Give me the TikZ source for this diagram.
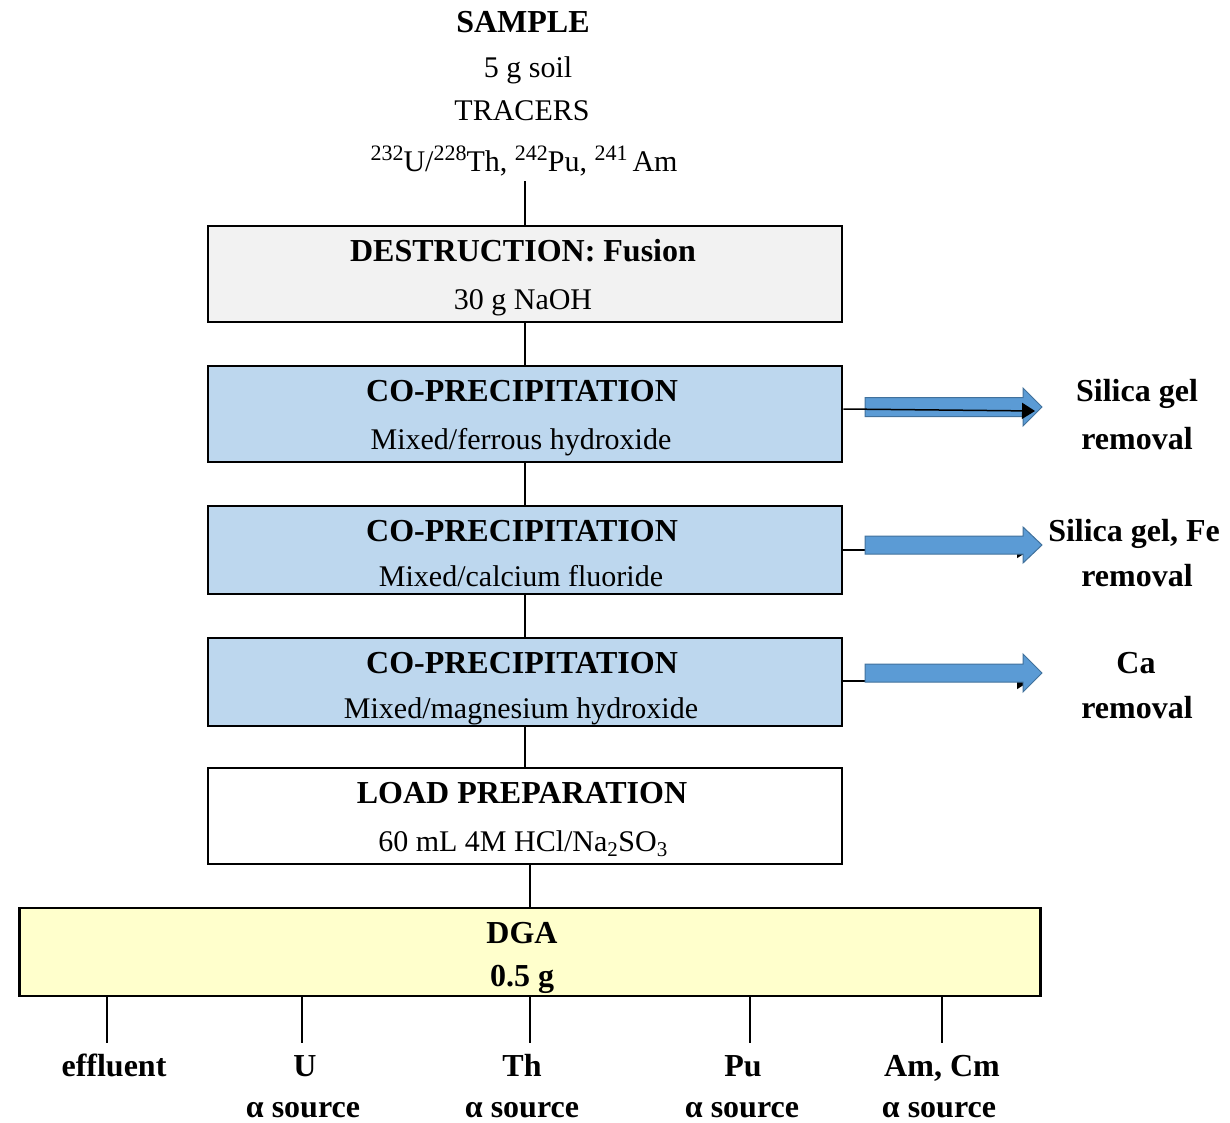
\documentclass[tikz,border=0pt]{standalone}
\usepackage{fontspec}
\setmainfont{Liberation Serif}
\usetikzlibrary{arrows.meta}
\definecolor{grayfill}{HTML}{F2F2F2}
\definecolor{bluefill}{HTML}{BDD7EE}
\definecolor{yellowfill}{HTML}{FFFFCC}
\definecolor{arrowblue}{HTML}{5B9BD5}
\definecolor{arrowedge}{HTML}{41719C}
\newcommand\isosup[1]{\raisebox{11pt}{\fontsize{22}{24}\selectfont #1}}
\begin{document}
\begin{tikzpicture}[x=1pt,y=-1pt,
  reg/.style={font=\fontsize{30}{36}\selectfont, anchor=base, inner sep=4pt},
  bld/.style={font=\fontsize{32}{38}\selectfont\bfseries, anchor=base, inner sep=4pt},
  box/.style={draw=black, line width=2.5pt, minimum width=634pt, inner sep=0pt},
  link/.style={draw=black, line width=1.5pt},
  blockarrow/.style={fill=arrowblue, draw=arrowedge, line width=1pt},
  blackarrow/.style={draw=black, line width=1.5pt, -{Triangle[length=13pt,width=16pt]}},
]
\useasboundingbox (0,0) rectangle (1230,1123);

% top texts
\node[bld] (sample) at (523,33) {SAMPLE};
\node[reg] (soil) at (528,78) {5 g soil};
\node[reg] (tracers) at (522,121) {TRACERS};
\node[reg] (iso) at (524,172) {\isosup{232}U/\isosup{228}Th, \isosup{242}Pu, \isosup{241}\,Am};

% boxes
\node[box, fill=grayfill, minimum height=96pt] (destr) at (525,274) {};
\node[box, fill=bluefill, minimum height=96pt] (cop1) at (525,414) {};
\node[box, fill=bluefill, minimum height=88pt] (cop2) at (525,550) {};
\node[box, fill=bluefill, minimum height=88pt] (cop3) at (525,682) {};
\node[box, fill=white, minimum height=96pt] (load) at (525,816) {};
\node[box, fill=yellowfill, minimum width=1021pt, minimum height=88pt] (dga) at (530,952) {};

% box texts
\node[bld] (destrA) at (523,261) {DESTRUCTION: Fusion};
\node[reg] (destrB) at (523,309) {30 g NaOH};
\node[bld] (cop1A) at (522,401) {CO-PRECIPITATION};
\node[reg] (cop1B) at (521,449) {Mixed/ferrous hydroxide};
\node[bld] (cop2A) at (522,541) {CO-PRECIPITATION};
\node[reg] (cop2B) at (521,586) {Mixed/calcium fluoride};
\node[bld] (cop3A) at (522,673) {CO-PRECIPITATION};
\node[reg] (cop3B) at (521,718) {Mixed/magnesium hydroxide};
\node[bld] (loadA) at (522,803) {LOAD PREPARATION};
\node[reg] (loadB) at (523,851) {60 mL 4M HCl/Na\textsubscript{2}SO\textsubscript{3}};
\node[bld] (dgaA) at (522,943) {DGA};
\node[bld] (dgaB) at (522,986) {0.5 g};

% vertical links
\draw[link] (destr.north) -- (destr.north |- iso.south);
\draw[link] (destr.south) -- (cop1.north);
\draw[link] (cop1.south) -- (cop2.north);
\draw[link] (cop2.south) -- (cop3.north);
\draw[link] (cop3.south) -- (load.north);
\draw[link] (dga.north) -- (dga.north |- load.south);

% right side labels
\node[bld] (r1a) at (1137,401) {Silica gel};
\node[bld] (r1b) at (1137,449) {removal};
\node[bld] (r2a) at (1134,541) {Silica gel, Fe};
\node[bld] (r2b) at (1137,586) {removal};
\node[bld] (r3a) at (1136,673) {Ca};
\node[bld] (r3b) at (1137,718) {removal};

% arrow 1
\coordinate (a1) at (1035,411);
\draw[blockarrow] (865,397.5) -- (1023,397.5) -- (1023,388) -- (1042,407) -- (1023,426) -- (1023,416.5) -- (865,416.5) -- cycle;
\draw[blackarrow] (cop1.east |- 0,409) -- (a1);

% arrow 2
\coordinate (a2) at (1030,550);
\draw[blackarrow] (cop2.east |- a2) -- (a2);
\draw[blockarrow] (865,536) -- (1023,536) -- (1023,527) -- (1042,545) -- (1023,563) -- (1023,554) -- (865,554) -- cycle;

% arrow 3
\coordinate (a3) at (1030,681);
\draw[blackarrow] (cop3.east |- a3) -- (a3);
\draw[blockarrow] (865,664) -- (1023,664) -- (1023,654) -- (1042,673) -- (1023,692) -- (1023,682) -- (865,682) -- cycle;

% bottom outputs
\coordinate (e1) at (107,1043);
\coordinate (e2) at (302,1043);
\coordinate (e3) at (530,1043);
\coordinate (e4) at (750,1043);
\coordinate (e5) at (942,1043);
\foreach \c in {e1,e2,e3,e4,e5} \draw[link] (\c |- dga.south) -- (\c);

\node[bld] (o1) at (114,1076) {effluent};
\node[bld] (o2) at (305,1076) {U};
\node[bld] (o3) at (522,1076) {Th};
\node[bld] (o4) at (743,1076) {Pu};
\node[bld] (o5) at (942,1076) {Am, Cm};
\node[bld, inner sep=0.5pt] (s2) at (303,1117) {α source};
\node[bld, inner sep=0.5pt] (s3) at (522,1117) {α source};
\node[bld, inner sep=0.5pt] (s4) at (742,1117) {α source};
\node[bld, inner sep=0.5pt] (s5) at (939,1117) {α source};
\end{tikzpicture}
\end{document}
